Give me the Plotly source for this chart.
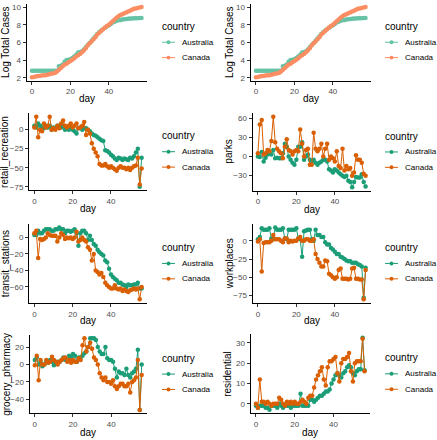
import plotly.graph_objects as go

W, H = 437, 440
FONT = "Liberation Sans, Arial, sans-serif"

# ---------------- data ----------------
countries = ["Australia", "Canada"]
day_cases = list(range(0, 58))
day_mobility = list(range(0, 57))

log_cases_australia = [2.8, 2.8, 2.8, 2.8, 2.8, 2.8, 2.8, 2.8, 2.8, 2.8, 2.8, 2.8, 2.8, 2.8,
                       3.3, 3.35, 3.5, 3.8, 4.0, 4.05, 4.1, 4.25, 4.4, 4.6, 4.85, 4.9, 5.0, 5.2,
                       5.45, 5.7, 5.95, 6.2, 6.45, 6.7, 6.95, 7.15, 7.35, 7.5, 7.65, 7.8, 7.95,
                       8.1, 8.25, 8.35, 8.45, 8.5, 8.55, 8.6, 8.63, 8.66, 8.68, 8.7, 8.72, 8.73,
                       8.74, 8.75, 8.76, 8.77]
log_cases_canada = [2.05, 2.1, 2.15, 2.2, 2.2, 2.25, 2.3, 2.3, 2.35, 2.4, 2.45, 2.5, 2.55, 2.7,
                    2.9, 3.1, 3.3, 3.5, 3.6, 3.75, 3.9, 4.05, 4.2, 4.4, 4.55, 4.7, 4.9, 5.1,
                    5.35, 5.65, 5.9, 6.1, 6.35, 6.6, 6.9, 7.1, 7.3, 7.5, 7.7, 7.85, 8.0, 8.2,
                    8.4, 8.6, 8.8, 8.95, 9.1, 9.2, 9.3, 9.4, 9.5, 9.6, 9.7, 9.8, 9.85, 9.9,
                    9.95, 10.0]

retail_australia = [5, 3, 8, 5, 3, 2, 5, 3, 5, 0, 3, 2, 5, 5, 3, 5, 0, 2, 0, 3, 0, -2, -5, 2, 3,
                    0, 2, 2, 0, -2, -5, -7, -8, -10, -12, -14, -15, -27, -28, -30, -33, -35,
                    -38, -40, -37, -38, -40, -38, -39, -40, -37, -38, -35, -30, -25, -75, -37]
retail_canada = [3, 17, -10, 0, -2, 8, 3, 5, 17, 0, 2, 0, 5, 2, 8, 12, 5, 3, 5, 8, 3, 5, 8, 2, 3,
                 5, 10, -7, 0, -5, -18, -25, -30, -35, -45, -47, -47, -45, -48, -50, -48, -50,
                 -52, -54, -50, -48, -50, -50, -52, -50, -53, -50, -48, -47, -37, -72, -51]

parks_australia = [0, -1, 7, -8, -2, 3, 5, 3, 10, -3, -2, -3, -3, 5, 20, 15, 0, -5, -10, -13, -5,
                   15, 15, 22, -5, 0, 3, -5, -8, -5, -10, -13, -10, -8, -5, -5, -8, -20, -22,
                   -25, -20, -22, -25, -28, -30, -32, -30, -38, -40, -48, -40, -32, -33, -33,
                   -28, -40, -47]
parks_canada = [5, 50, 57, 3, 5, 10, 8, 24, 62, 22, 12, 8, 5, -3, 15, 27, 10, 8, 3, 8, 10, 8, 42,
                20, 0, 10, 12, -13, -13, 37, 12, 8, 12, 20, 0, 12, 20, -5, 0, -3, -8, 8, -15,
                -18, 12, -22, -15, -20, -18, -30, -25, 2, -5, -5, -10, -27, -30]

transit_australia = [3, 3, 8, 5, 5, 8, 10, 10, 10, 8, 8, 10, 10, 12, 10, 10, 5, 8, 8, 7, 8, 10, 5,
                     -10, 5, 8, 8, 5, -3, 2, -3, -8, -10, -15, -18, -20, -22, -28, -30, -38,
                     -45, -48, -50, -52, -55, -55, -57, -58, -60, -57, -58, -58, -57, -57, -55,
                     -62, -62]
transit_canada = [5, 8, -25, -2, -3, -2, 0, 5, 3, 2, 2, 2, -5, 0, 5, 3, -2, 0, -1, 0, -2, 0, 7,
                  -5, -3, 0, -3, -5, -12, -15, -28, -20, -40, -42, -45, -43, -48, -55, -58,
                  -60, -62, -62, -58, -62, -63, -62, -65, -63, -65, -66, -64, -63, -62, -63,
                  -62, -75, -60]

workplaces_australia = [2, 5, 17, 15, 15, 15, 17, 3, 2, 18, 15, 15, 15, 17, 3, 2, 15, 15, 15, 15,
                        17, 3, 2, -22, 13, 14, 15, 15, 2, 0, 15, 8, 8, 5, 5, -2, -5, -5, -10,
                        -12, -15, -18, -18, -22, -23, -25, -27, -28, -28, -30, -30, -30, -32,
                        -33, -35, -78, -37]
workplaces_canada = [-1, 2, -42, -3, -2, -2, -2, 0, 8, 2, 2, 2, 0, -2, 3, 3, -2, 0, -1, 0, 0, 3,
                     5, 0, 0, 2, 2, 0, 0, 2, -18, -25, -30, -35, -35, -27, -28, -45, -47, -50,
                     -52, -50, -40, -38, -52, -52, -52, -53, -52, -38, -37, -52, -52, -53, -53,
                     -80, -40]

grocery_australia = [5, 8, 0, 3, -2, 0, 3, 2, 5, 3, -1, 2, 3, 3, 5, 8, 5, 5, 10, 8, 12, 10, 3, 8,
                     8, 10, 13, 15, 20, 30, 30, 30, 28, 20, 15, 12, 12, 20, 7, 5, 5, 3, -5, -15,
                     -8, -10, -10, -12, -5, -12, -15, -10, -8, -5, 17, -52, 0]
grocery_canada = [-1, 10, -18, 5, 0, 0, 5, 2, 3, 9, 5, 3, 0, 3, 5, 7, 8, 3, 5, 2, 5, 3, 3, 7, 5,
                  22, 30, 15, 20, 25, 18, 8, 5, 0, -10, -15, -18, -15, -20, -20, -22, -18, -25,
                  -28, -25, -22, -22, -25, -25, -22, -32, -20, -18, -15, 5, -52, -12]

residential_australia = [-1, -2, -1, -1, -1, -2, -2, -3, -1, -1, -1, -2, 0, -1, -2, -1, -1, -1,
                         -2, -1, -1, -1, -1, 5, -1, -1, -1, -1, 2, 2, 1, 2, 3, 4, 4, 5, 6, 6, 7,
                         10, 12, 14, 15, 14, 13, 15, 16, 18, 19, 18, 15, 14, 16, 17, 17, 32.5, 16.5]
residential_canada = [0, -2, 12, 1, 1, 0, 1, 0, -1, 0, 0, 0, 3, 2, 0, -1, 1, 0, 1, 0, 1, 0, 0, 1,
                      2, 1, 0, 3, 4, 4, 8, 12, 14, 16, 18, 12, 9, 18, 21, 21, 22, 23, 15, 11, 20,
                      22, 22, 23, 25, 16, 11, 20, 21, 21, 21, 32, 16]

x_ticks = [0, 20, 40]
ticks_cases = [2, 4, 6, 8, 10]
ticks_retail = [-75, -50, -25, 0]
ticks_parks = [-30, 0, 30, 60]
ticks_transit = [-60, -40, -20, 0]
ticks_workplaces = [-75, -50, -25, 0]
ticks_grocery = [-40, -20, 0, 20]
ticks_residential = [0, 10, 20, 30]

SET2 = ["#66C2A5", "#FC8D62"]
DARK2 = ["#1B9E77", "#D95F02"]

# --------------- layout (pixel geometry) ---------------
# box = (left, right, top, bottom) in px; ytx = centre of y title; dayy = centre of "day"; lx = legend left
panels = [
    dict(t="Log Total Cases", x=day_cases, ys=[log_cases_australia, log_cases_canada], c=SET2,
         ticks=ticks_cases, box=(26.5, 147, 2.6, 80.4), ytx=5.7, dayy=98, lx=160),
    dict(t="Log Total Cases", x=day_cases, ys=[log_cases_australia, log_cases_canada], c=SET2,
         ticks=ticks_cases, box=(250.5, 371, 2.6, 80.4), ytx=229.7, dayy=98, lx=383),
    dict(t="retail_recreation", x=day_mobility, ys=[retail_australia, retail_canada], c=DARK2,
         ticks=ticks_retail, box=(29, 147, 113, 190.5), ytx=5.2, dayy=208.7, lx=160),
    dict(t="parks", x=day_mobility, ys=[parks_australia, parks_canada], c=DARK2,
         ticks=ticks_parks, box=(252.5, 371, 113, 191), ytx=228.7, dayy=209.5, lx=383),
    dict(t="transit_stations", x=day_mobility, ys=[transit_australia, transit_canada], c=DARK2,
         ticks=ticks_transit, box=(29, 147, 224.5, 304), ytx=5.7, dayy=322, lx=160),
    dict(t="workplaces", x=day_mobility, ys=[workplaces_australia, workplaces_canada], c=DARK2,
         ticks=ticks_workplaces, box=(252.5, 371, 224.5, 304), ytx=229.7, dayy=322, lx=383),
    dict(t="grocery_pharmacy", x=day_mobility, ys=[grocery_australia, grocery_canada], c=DARK2,
         ticks=ticks_grocery, box=(29.5, 147, 336, 415.3), ytx=5.7, dayy=434, lx=160),
    dict(t="residential", x=day_mobility, ys=[residential_australia, residential_canada], c=DARK2,
         ticks=ticks_residential, box=(250.5, 370, 335.5, 415.3), ytx=228, dayy=434, lx=383),
]


def expand(vals):
    lo, hi = min(vals), max(vals)
    pad = 0.05 * (hi - lo)
    return [lo - pad, hi + pad]


fig = go.Figure()
layout = dict(width=W, height=H, margin=dict(l=0, r=0, t=0, b=0), autosize=False,
              paper_bgcolor="white", plot_bgcolor="white", showlegend=False,
              font=dict(family=FONT, color="black"), hovermode=False)
annotations, shapes = [], []

for i, p in enumerate(panels, start=1):
    sx = "" if i == 1 else str(i)
    L, R, T, B = p["box"]
    for k, name in enumerate(countries):
        fig.add_trace(go.Scatter(
            x=p["x"], y=p["ys"][k], name=name, mode="lines+markers",
            line=dict(color=p["c"][k], width=1),
            marker=dict(color=p["c"][k], size=4.5),
            xaxis="x" + sx, yaxis="y" + sx, showlegend=False))
    allv = p["ys"][0] + p["ys"][1]
    common = dict(showline=True, linecolor="black", linewidth=1, showgrid=False,
                  zeroline=False, ticks="outside", ticklen=3, tickwidth=1,
                  tickcolor="#333333", tickfont=dict(size=8, color="#4D4D4D", family=FONT))
    layout["xaxis" + sx] = dict(domain=[L / W, R / W], anchor="y" + sx, range=expand(p["x"]),
                                tickvals=x_ticks, **common)
    layout["yaxis" + sx] = dict(domain=[1 - B / H, 1 - T / H], anchor="x" + sx,
                                range=expand(allv), tickvals=p["ticks"], **common)
    cy = (T + B) / 2
    # axis titles
    annotations.append(dict(text="day", xref="paper", yref="paper", x=(L + R) / 2 / W,
                            y=1 - p["dayy"] / H, showarrow=False, xanchor="center",
                            yanchor="middle", font=dict(size=10, color="black", family=FONT)))
    annotations.append(dict(text=p["t"], xref="paper", yref="paper", x=p["ytx"] / W,
                            y=1 - cy / H, showarrow=False, textangle=-90, xanchor="center",
                            yanchor="middle", font=dict(size=10, color="black", family=FONT)))
    # legend
    lx = p["lx"]
    annotations.append(dict(text="country", xref="paper", yref="paper", x=lx / W,
                            y=1 - (cy - 16) / H, showarrow=False, xanchor="left",
                            yanchor="middle", font=dict(size=10, color="black", family=FONT)))
    for k, name in enumerate(countries):
        ky = cy + (0 if k == 0 else 15.5)
        kx0, kx1 = lx + 2, lx + 15
        shapes.append(dict(type="line", xref="paper", yref="paper", x0=kx0 / W, x1=kx1 / W,
                           y0=1 - ky / H, y1=1 - ky / H, line=dict(color=p["c"][k], width=1)))
        mx = (kx0 + kx1) / 2
        shapes.append(dict(type="circle", xref="paper", yref="paper",
                           x0=(mx - 2) / W, x1=(mx + 2) / W, y0=1 - (ky + 2) / H,
                           y1=1 - (ky - 2) / H, fillcolor=p["c"][k], line=dict(width=0)))
        annotations.append(dict(text=name, xref="paper", yref="paper", x=(lx + 20) / W,
                                y=1 - ky / H, showarrow=False, xanchor="left",
                                yanchor="middle", font=dict(size=8, color="black", family=FONT)))

layout["annotations"] = annotations
layout["shapes"] = shapes
fig.update_layout(**layout)
fig.write_html("out.html", config={"displayModeBar": False, "staticPlot": True},
               post_script="document.body.style.margin='0';document.body.style.padding='0';"
                           "document.body.style.overflow='hidden';")
